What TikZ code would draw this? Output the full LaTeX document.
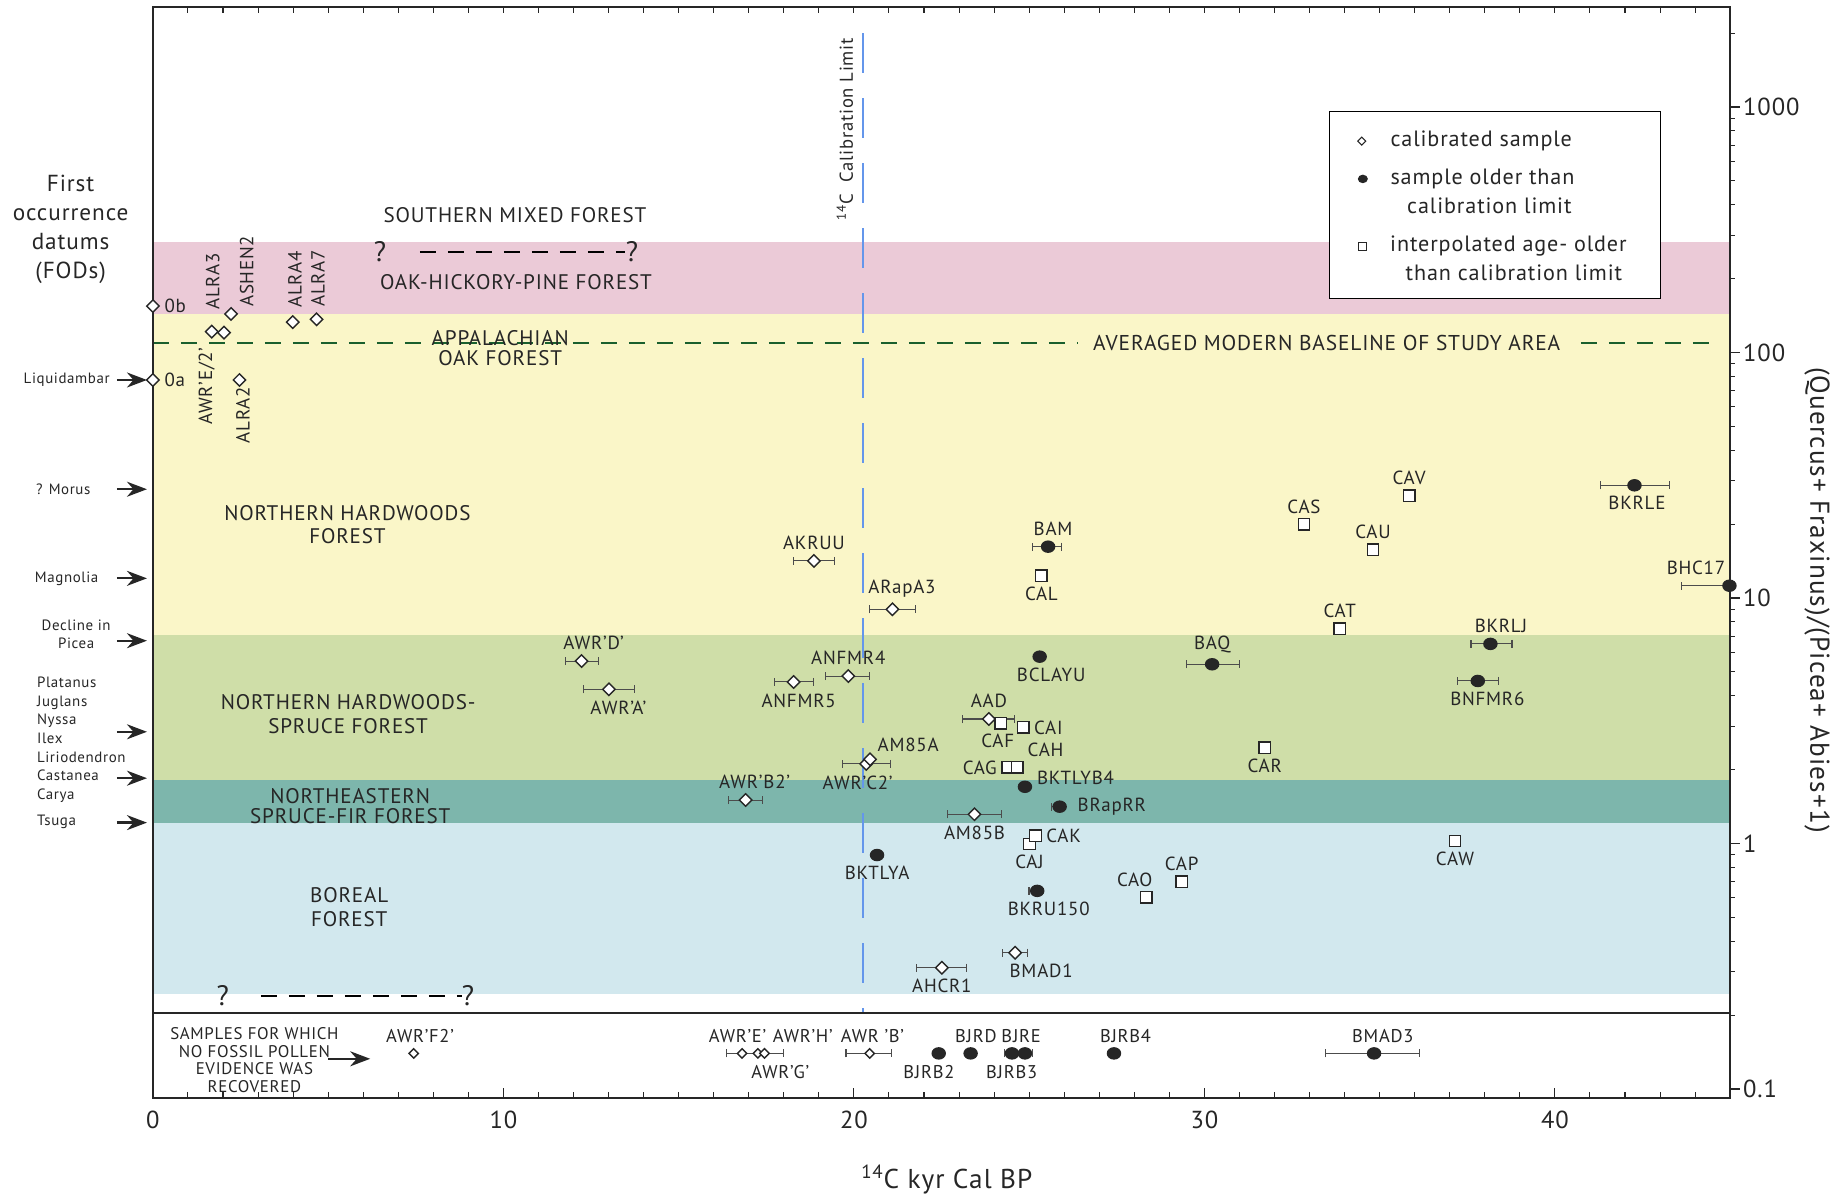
\documentclass[tikz,border=0pt]{standalone}
\usepackage{fontspec}
\setmainfont{PT Sans}[LetterSpace=4.0]
\usepackage{tikz}
\usetikzlibrary{shapes,arrows.meta}
\definecolor{pinkband}{RGB}{235,202,215}
\definecolor{yellowband}{RGB}{250,246,200}
\definecolor{greenband}{RGB}{207,222,168}
\definecolor{tealband}{RGB}{125,182,172}
\definecolor{blueband}{RGB}{210,232,238}
\definecolor{basegreen}{RGB}{25,95,45}
\definecolor{calblue}{RGB}{100,150,235}
\newcommand{\labfont}{\fontsize{10.8}{12}\selectfont}
\tikzstyle{calib}=[diamond,draw=black!85,fill=white,line width=0.8pt,inner sep=0pt,minimum size=0.26cm]
\tikzstyle{older}=[ellipse,fill=black!85,inner sep=0pt,minimum width=0.29cm,minimum height=0.25cm]
\tikzstyle{interp}=[rectangle,draw=black!85,fill=white,line width=0.8pt,inner sep=0pt,minimum size=0.23cm]
\tikzstyle{errbar}=[{Bar[width=0.16cm]}-{Bar[width=0.16cm]},line width=0.6pt,draw=black!70]
\tikzstyle{fodarrow}=[-{Stealth[length=0.4cm,width=0.3cm]},line width=1.3pt,draw=black!85]
\tikzstyle{axis}=[line width=1pt,draw=black!85]
\tikzstyle{forest}=[font=\fontsize{12}{13.5}\selectfont,align=center]
\tikzstyle{taxon}=[font=\fontsize{8.5}{10.6}\selectfont]
\tikzstyle{vlab}=[font=\labfont,rotate=90,inner sep=0pt]
\tikzstyle{rowlab}=[font=\fontsize{10.5}{11}\selectfont,inner sep=0pt]
\tikzstyle{legtext}=[font=\fontsize{12.6}{14}\selectfont,inner sep=0pt]
\tikzstyle{qmark}=[font=\fontsize{16}{18}\selectfont,inner sep=0pt]
\tikzstyle{qdash}=[line width=1pt,dash pattern=on 0.32cm off 0.24cm]

\begin{document}
\begin{tikzpicture}[x=0.701cm,y=4.91cm,every node/.append style={text=black!85},
  every label/.style={font=\labfont,inner sep=1.5pt},label distance=0.03cm]
\useasboundingbox (-4.3623,-1.4440) rectangle (48.248,3.4358);

% vegetation bands
\fill[pinkband] (0,2.157) rectangle (45,2.450);
\fill[yellowband] (0,0.849) rectangle (45,2.157);
\fill[greenband] (0,0.259) rectangle (45,0.849);
\fill[tealband] (0,0.082) rectangle (45,0.259);
\fill[blueband] (0,-0.614) rectangle (45,0.082);

% modern baseline
\coordinate (blL) at (0,2.037);
\coordinate (blR) at (44.5,2.037);
\draw[basegreen,line width=1.1pt,dash pattern=on 0.32cm off 0.24cm] (blL) -- (blR);
\node[font=\fontsize{12.2}{13}\selectfont,fill=yellowband,inner xsep=0.3cm] (baseline) at (33.49,2.037) {AVERAGED MODERN BASELINE OF STUDY AREA};

% calibration limit
\coordinate (calT) at (20.25,3.30);
\coordinate (calB) at (20.25,-0.690);
\draw[draw=calblue,line width=1.1pt,dash pattern=on 0.8cm off 0.5cm] (calT) -- (calB);
\node[rotate=90,font=\fontsize{10.6}{12}\selectfont] (callim) at (19.74,2.910) {\textsuperscript{14}C\ \ Calibration Limit};

% frame and axes
\draw[axis] (0,3.407) -- (45,3.407) -- (45,-1.037) -- (0,-1.037) -- cycle;
\draw[axis] (0,-0.690) -- (45,-0.690);
\foreach \k in {0,...,45} {
  \draw[axis,line width=0.6pt] (\k,3.407) -- ++(0,-0.12cm);
  \draw[axis,line width=0.6pt] (\k,-1.037) -- ++(0,0.12cm);
}
\foreach \k in {0,10,...,40} {
  \draw[axis,line width=0.6pt] (\k,-1.037) -- ++(0,0.2cm);
  \node[font=\fontsize{14}{16}\selectfont] (x\k) at (\k,-1.126) {\k};
}
\foreach \d/\t in {-1/0.1,0/1,1/10,2/100,3/1000} {
  \draw[axis,line width=0.6pt] (45,\d) -- ++(0.2cm,0);
  \node[font=\fontsize{14}{16}\selectfont,anchor=west,inner sep=0pt] (y\d) at ([xshift=0.25cm]45,\d) {\t};
}
\foreach \d in {-1,0,1,2} {
  \foreach \m in {2,...,9} {
    \draw[axis,line width=0.6pt] (45,{\d+log10(\m)}) -- ++(0.1cm,0);
  }
}
\draw[axis,line width=0.6pt] (45,{3+log10(2)}) -- ++(0.1cm,0);
\node[font=\fontsize{15.5}{17}\selectfont] (xtitle) at (22.65,-1.369) {\textsuperscript{14}C kyr Cal BP};
\node[font=\fontsize{15.5}{17}\selectfont,rotate=-90] (ytitle) at (47.48,0.992) {(Quercus+ Fraxinus)/(Picea+ Abies+1)};

% first occurrence datums
\node[font=\fontsize{13.2}{16.4}\selectfont,align=center] (fods) at (-2.348,2.502) {First\\occurrence\\datums\\(FODs)};
\node[calib,label={[font=\labfont]right:0b}] (od0b) at (0,2.189) {};
\node[calib,label={[font=\labfont]right:0a}] (od0a) at (0,1.888) {};
\node[taxon] (liq) at (-2.46,1.888) {Liquidambar};
\node[taxon] (mor) at (-2.556,1.443) {? Morus};
\node[taxon] (mag) at (-2.46,1.080) {Magnolia};
\node[taxon,align=center,font=\fontsize{8.5}{10}\selectfont] (pic) at (-2.19,0.851) {Decline in\\Picea};
\node[taxon,align=left,anchor=west,inner sep=0pt] (list) at (-3.315,0.423) {Platanus\\Juglans\\Nyssa\\Ilex\\Liriodendron\\Castanea\\Carya};
\node[taxon,anchor=west,inner sep=0pt] (tsu) at (-3.315,0.089) {Tsuga};
\foreach \n/\y in {liq/1.888,mor/1.443,mag/1.080,pic/0.826,lst/0.455,cas/0.266,tsu/0.085} {
  \coordinate (t\n) at (-1.03,\y);
  \coordinate (h\n) at (-0.17,\y);
  \draw[fodarrow] (t\n) -- (h\n);
}

% forest names
\node[forest] (smf) at (10.33,2.560) {SOUTHERN MIXED FOREST};
\node[qmark] (q1) at (6.48,2.41) {?};
\node[qmark] (q2) at (13.67,2.41) {?};
\coordinate (smfL) at (7.62,2.41);
\coordinate (smfR) at (13.47,2.41);
\draw[qdash] (smfL) -- (smfR);
\node[forest] (ohp) at (10.36,2.288) {OAK-HICKORY-PINE FOREST};
\node[forest,font=\fontsize{12}{11.5}\selectfont] (app) at (9.91,2.017) {APPALACHIAN\\OAK FOREST};
\node[forest] (nhf) at (5.55,1.299) {NORTHERN HARDWOODS\\FOREST};
\node[forest] (nhs) at (5.57,0.526) {NORTHERN HARDWOODS-\\SPRUCE FOREST};
\node[forest,font=\fontsize{12}{11.5}\selectfont] (nsf) at (5.63,0.151) {NORTHEASTERN\\SPRUCE-FIR FOREST};
\node[forest] (bor) at (5.60,-0.260) {BOREAL\\FOREST};
\node[qmark] (q3) at (1.99,-0.621) {?};
\node[qmark] (q4) at (8.99,-0.621) {?};
\coordinate (borL) at (3.08,-0.621);
\coordinate (borR) at (8.81,-0.621);
\draw[qdash] (borL) -- (borR);

% early samples near the FODs
\node[calib] (alra3) at (1.68,2.085) {};
\node[calib] (awre2) at (2.03,2.081) {};
\node[calib] (ashen2) at (2.23,2.157) {};
\node[calib] (alra4) at (3.99,2.124) {};
\node[calib] (alra7) at (4.67,2.135) {};
\node[calib] (alra2) at (2.47,1.888) {};
\node[vlab,anchor=west] at (1.71,2.173) {ALRA3};
\node[vlab,anchor=west] at (2.68,2.185) {ASHEN2};
\node[vlab,anchor=west] at (4.05,2.181) {ALRA4};
\node[vlab,anchor=west] at (4.71,2.185) {ALRA7};
\node[vlab,anchor=east] at (1.535,2.022) {AWR'E/2'};
\node[vlab,anchor=east] at (2.57,1.860) {ALRA2};

% calibrated samples
\draw[errbar] (18.26,1.151) -- (19.46,1.151);
\node[calib,label=above:AKRUU] (akruu) at (18.86,1.151) {};
\draw[errbar] (20.44,0.954) -- (21.78,0.954);
\node[calib,label={[xshift=0.19cm]above:ARapA3}] (arapa3) at (21.10,0.954) {};
\draw[errbar] (11.76,0.743) -- (12.74,0.743);
\node[calib,label={[xshift=0.24cm]above:AWR'D'}] (awrd) at (12.23,0.743) {};
\draw[errbar] (12.28,0.628) -- (13.75,0.628);
\node[calib,label={[xshift=0.19cm]below:AWR'A'}] (awra) at (13.01,0.628) {};
\draw[errbar] (17.71,0.658) -- (18.86,0.658);
\node[calib,label={[xshift=0.1cm]below:ANFMR5}] (anfmr5) at (18.28,0.658) {};
\draw[errbar] (19.18,0.682) -- (20.47,0.682);
\node[calib,label=above:ANFMR4] (anfmr4) at (19.84,0.682) {};
\draw[errbar] (19.65,0.324) -- (21.07,0.324);
\node[calib,label={[xshift=-0.17cm]below:AWR'C2'}] (awrc2) at (20.35,0.324) {};
\node[calib,label=above right:AM85A] (am85a) at (20.46,0.343) {};
\draw[errbar] (16.42,0.177) -- (17.41,0.177);
\node[calib,label={[xshift=0.18cm]above:AWR'B2'}] (awrb2) at (16.91,0.177) {};
\draw[errbar] (22.66,0.119) -- (24.23,0.119);
\node[calib,label=below:AM85B] (am85b) at (23.44,0.119) {};
\draw[errbar] (23.09,0.507) -- (24.59,0.507);
\node[calib,label=above:AAD] (aad) at (23.85,0.507) {};
\draw[errbar] (21.77,-0.506) -- (23.22,-0.506);
\node[calib,label=below:AHCR1] (ahcr1) at (22.51,-0.506) {};
\draw[errbar] (24.23,-0.445) -- (24.96,-0.445);
\node[calib,label={[xshift=0.52cm]below:BMAD1}] (bmad1) at (24.60,-0.445) {};

% interpolated ages
\node[interp,label={[xshift=-0.06cm]below:CAF}] (caf) at (24.19,0.490) {};
\node[interp,label=right:CAI] (cai) at (24.83,0.473) {};
\node[interp,label=left:CAG] (cag) at (24.39,0.310) {};
\node[interp,label=above right:CAH] (cah) at (24.66,0.310) {};
\node[interp,label=below:CAL] (cal) at (25.35,1.090) {};
\node[interp,label=below:CAJ] (caj) at (25.01,-0.002) {};
\node[interp,label=right:CAK] (cak) at (25.18,0.031) {};
\node[interp,label=above:CAV] (cav) at (35.84,1.417) {};
\node[interp,label=above:CAS] (cas) at (32.84,1.300) {};
\node[interp,label=above:CAU] (cau) at (34.81,1.196) {};
\node[interp,label=above:CAT] (cat) at (33.86,0.874) {};
\node[interp,label=below:CAR] (car) at (31.72,0.390) {};
\node[interp,label=below:CAW] (caw) at (37.15,0.010) {};
\node[interp,label=above:CAP] (cap) at (29.35,-0.156) {};
\node[interp,label={[xshift=-0.23cm]above:CAO}] (cao) at (28.34,-0.219) {};

% samples older than the calibration limit
\draw[errbar] (25.08,1.209) -- (25.93,1.209);
\node[older,label={[xshift=0.1cm]above:BAM}] (bam) at (25.54,1.209) {};
\node[older,label={[xshift=0.23cm]below:BCLAYU}] (bclayu) at (25.30,0.761) {};
\node[older,label={[yshift=0.17cm]right:BKTLYB4}] (bktlyb4) at (24.88,0.231) {};
\draw[errbar] (25.62,0.150) -- (25.87,0.150);
\node[older,label={[label distance=0.15cm]right:BRapRR}] (brap) at (25.87,0.150) {};
\node[older,label=below:BKTLYA] (bktlya) at (20.66,-0.047) {};
\draw[errbar] (24.98,-0.193) -- (25.23,-0.193);
\node[older,label={[xshift=0.23cm]below:BKRU150}] (bkru150) at (25.23,-0.193) {};
\draw[errbar] (29.48,0.730) -- (31.01,0.730);
\node[older,label=above:BAQ] (baq) at (30.22,0.730) {};
\draw[errbar] (37.59,0.813) -- (38.79,0.813);
\node[older,label={[xshift=0.21cm]above:BKRLJ}] (bkrlj) at (38.16,0.813) {};
\draw[errbar] (37.21,0.662) -- (38.41,0.662);
\node[older,label={[xshift=0.19cm]below:BNFMR6}] (bnfmr6) at (37.80,0.662) {};
\draw[errbar] (41.29,1.459) -- (43.28,1.459);
\node[older,label={[xshift=0.05cm]below:BKRLE}] (bkrle) at (42.27,1.459) {};
\draw[errbar] (43.60,1.050) -- (44.98,1.050);
\node[older,label={[xshift=-0.67cm]above:BHC17}] (bhc17) at (44.98,1.050) {};

% samples without fossil pollen
\node[taxon,align=center,font=\fontsize{9.6}{10.1}\selectfont] (nopollen) at (2.896,-0.882) {SAMPLES FOR WHICH\\NO FOSSIL POLLEN\\EVIDENCE WAS\\RECOVERED};
\coordinate (npT) at (5.0,-0.877);
\coordinate (npH) at (6.2,-0.877);
\draw[fodarrow] (npT) -- (npH);
\node[calib,minimum size=0.2cm] (awrf2) at (7.44,-0.855) {};
\draw[errbar] (16.36,-0.855) -- (18.0,-0.855);
\node[calib,minimum size=0.2cm] (awre) at (16.81,-0.855) {};
\node[calib,minimum size=0.2cm] (awrg) at (17.26,-0.855) {};
\node[calib,minimum size=0.2cm] (awrh) at (17.45,-0.855) {};
\draw[errbar] (19.76,-0.855) -- (21.09,-0.855);
\node[calib,minimum size=0.2cm] (awrb) at (20.45,-0.855) {};
\node[older] (bjrb2) at (22.42,-0.855) {};
\node[older] (bjrd) at (23.33,-0.855) {};
\draw[errbar] (24.27,-0.855) -- (25.10,-0.855);
\node[older] (bjrb3) at (24.51,-0.855) {};
\node[older] (bjre) at (24.88,-0.855) {};
\node[older] (bjrb4) at (27.42,-0.855) {};
\draw[errbar] (33.43,-0.855) -- (36.16,-0.855);
\node[older] (bmad3) at (34.84,-0.855) {};
\node[rowlab] at (7.62,-0.783) {AWR'F2'};
\node[rowlab] at (16.68,-0.783) {AWR'E'};
\node[rowlab] at (18.54,-0.783) {AWR'H'};
\node[rowlab] at (17.90,-0.930) {AWR'G'};
\node[rowlab] at (20.53,-0.783) {AWR 'B'};
\node[rowlab] at (22.14,-0.930) {BJRB2};
\node[rowlab] at (23.48,-0.783) {BJRD};
\node[rowlab] at (24.77,-0.783) {BJRE};
\node[rowlab] at (24.50,-0.930) {BJRB3};
\node[rowlab] at (27.75,-0.783) {BJRB4};
\node[rowlab] at (35.09,-0.783) {BMAD3};

% legend
\draw[line width=0.6pt,fill=white] (33.58,2.982) rectangle (43.0,2.218);
\node[calib,minimum size=0.17cm,line width=0.6pt] (kcal) at (34.49,2.861) {};
\node[older,minimum width=0.2cm,minimum height=0.17cm] (kold) at (34.52,2.707) {};
\node[interp,minimum size=0.17cm,line width=0.6pt] (kint) at (34.51,2.432) {};
\node[legtext,anchor=west] at (35.30,2.861) {calibrated sample};
\node[legtext,anchor=west] at (35.30,2.707) {sample older than};
\node[legtext] at (38.13,2.596) {calibration limit};
\node[legtext,anchor=west] at (35.29,2.432) {interpolated age- older};
\node[legtext] at (38.83,2.323) {than calibration limit};
\end{tikzpicture}
\end{document}
